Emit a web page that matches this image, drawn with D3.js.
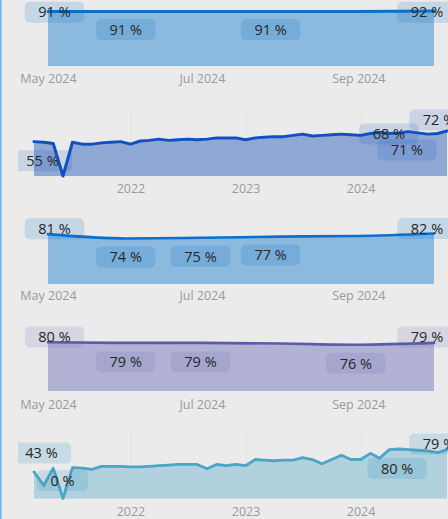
<!DOCTYPE html>
<html><head><meta charset="utf-8">
<script src="https://cdn.jsdelivr.net/npm/d3@7"></script>
<style>
html,body{margin:0;padding:0;background:#ebebeb;}
svg{display:block;}
</style></head>
<body>
<svg id="c" width="448" height="519"></svg>
<script>
// ---- data ----
const shortMonths = ["2024-05","2024-06","2024-07","2024-08","2024-09","2024-10"];
const shortTicks = ["2024-05","2024-07","2024-09"];
const longMonths = [
 "2021-03","2021-04","2021-05","2021-06","2021-07","2021-08","2021-09","2021-10","2021-11","2021-12",
 "2022-01","2022-02","2022-03","2022-04","2022-05","2022-06","2022-07","2022-08","2022-09","2022-10","2022-11","2022-12",
 "2023-01","2023-02","2023-03","2023-04","2023-05","2023-06","2023-07","2023-08","2023-09","2023-10","2023-11","2023-12",
 "2024-01","2024-02","2024-03","2024-04","2024-05","2024-06","2024-07","2024-08","2024-09","2024-10"];
const longTicks = ["2022-01","2023-01","2024-01"];

const valuesA = [91,91,91,91,91,92];
const valuesB = [55,54,52,0,54,51,51,53,54,55,51,56,57,59,57,58,59,58,59,61,61,61,58,61,62,63,63,65,67,64,65,66,67,66,65,68,70,68,69,71,69,67,68,72];
const valuesC = [81,74,75,77,78,82];
const valuesD = [80,79,79,78,76,79];
const valuesE = [43,21,49,0,50,49,47,52,52,52,51,51,52,53,54,55,55,55,48,55,53,55,53,63,62,61,62,62,66,63,56,63,70,63,63,73,65,79,80,79,78,77,74,79];

// ---- layout ----
const panels = [
 {values: valuesA, dates: shortMonths, ticks: shortTicks, fmt: "%b %Y", x0: 48, x1: 434, yTop: 11, yBot: 66, tickY: 79,
  line: "#0d6fcb", area: "#8cb9de", box: "rgba(13,111,203,0.17)", curve: d3.curveMonotoneX, lw: 3, grid: false,
  labels: [{i:0,dx:6.5,dy:-5},{i:1,dx:-0.5,dy:18},{i:3,dx:-9.5,dy:18},{i:5,dx:-7,dy:-5}]},
 {values: valuesB, dates: longMonths, ticks: longTicks, fmt: "%Y", x0: 34, x1: 447, yTop: 131, yBot: 176, tickY: 188.7,
  line: "#1150c0", area: "#8fa9d4", box: "rgba(17,80,192,0.15)", curve: d3.curveLinear, lw: 3, grid: true,
  labels: [{i:0,dx:8.5,dy:19},{i:37,dx:-0.5,dy:0.5},{i:39,dx:-1.7,dy:18.4},{i:43,dx:-8,dy:-11}]},
 {values: valuesC, dates: shortMonths, ticks: shortTicks, fmt: "%b %Y", x0: 48, x1: 434, yTop: 233.5, yBot: 284, tickY: 295.7,
  line: "#0d6fcb", area: "#8cb9de", box: "rgba(13,111,203,0.17)", curve: d3.curveMonotoneX, lw: 2.6, grid: false,
  labels: [{i:0,dx:6.5,dy:-5.3},{i:1,dx:-0.5,dy:18.7},{i:2,dx:-1.4,dy:18.5},{i:3,dx:-9.5,dy:18.4},{i:5,dx:-7,dy:-5}]},
 {values: valuesD, dates: shortMonths, ticks: shortTicks, fmt: "%b %Y", x0: 48, x1: 434, yTop: 342.3, yBot: 391, tickY: 404.3,
  line: "#5a5ca8", area: "#b2b3d4", box: "rgba(90,92,168,0.15)", curve: d3.curveMonotoneX, lw: 2.6, grid: false,
  labels: [{i:0,dx:6.5,dy:-5.3},{i:1,dx:-0.5,dy:19},{i:2,dx:-1.4,dy:19},{i:4,dx:-2.5,dy:18.6},{i:5,dx:-7,dy:-6}]},
 {values: valuesE, dates: longMonths, ticks: longTicks, fmt: "%Y", x0: 34, x1: 447, yTop: 449, yBot: 498.5, tickY: 511.7,
  line: "#4ba5c6", area: "#b0d1dd", box: "rgba(60,150,195,0.2)", curve: d3.curveLinear, lw: 2.8, grid: true,
  labels: [{i:0,dx:7.5,dy:-19},{i:3,dx:-0.5,dy:-18},{i:38,dx:-1.7,dy:19.5},{i:43,dx:-8,dy:-5.5}]}
];

const svg = d3.select("#c");
svg.append("rect").attr("width", 448).attr("height", 519).attr("fill", "#ebebeb");
svg.append("rect").attr("x", 0).attr("width", 1.6).attr("height", 519).attr("fill", "#72b6e4");
svg.append("defs").append("clipPath").attr("id", "vis")
  .append("rect").attr("x", 18).attr("y", 0).attr("width", 430).attr("height", 519);

const parse = d3.timeParse("%Y-%m");
const FONT = "'Open Sans', 'Noto Sans', sans-serif";

panels.forEach(p => {
  const dates = p.dates.map(parse);
  const tickDates = p.ticks.map(parse);
  const x = d3.scaleTime().domain(d3.extent(dates)).range([p.x0, p.x1]);
  const y = d3.scaleLinear().domain([0, d3.max(p.values)]).range([p.yBot, p.yTop]);
  const g = svg.append("g");

  if (p.grid) {
    g.selectAll("line.grid").data(tickDates).join("line")
      .attr("class", "grid")
      .attr("x1", d => Math.round(x(d)) + 0.5).attr("x2", d => Math.round(x(d)) + 0.5)
      .attr("y1", p.yTop - 20).attr("y2", p.yBot)
      .attr("stroke", "#e3e3e3").attr("stroke-width", 1);
  }

  const area = d3.area().x((d, i) => x(dates[i])).y0(p.yBot).y1(d => y(d)).curve(p.curve);
  g.append("path").datum(p.values).attr("d", area).attr("fill", p.area);

  const line = d3.line().x((d, i) => x(dates[i])).y(d => y(d)).curve(p.curve);
  g.append("path").datum(p.values).attr("d", line)
    .attr("fill", "none").attr("stroke", p.line).attr("stroke-width", p.lw)
    .attr("stroke-linejoin", "round").attr("stroke-linecap", "round");

  const axis = d3.axisBottom(x).tickValues(tickDates).tickFormat(d3.timeFormat(p.fmt)).tickSize(0);
  const ax = g.append("g").attr("transform", `translate(0,${p.tickY})`).call(axis);
  ax.select(".domain").remove();
  ax.selectAll("text").attr("y", 0).attr("dy", "0.35em")
    .attr("fill", "#9a9a9a").style("font-family", FONT).style("font-size", "12.5px");

  const lg = g.append("g").attr("clip-path", "url(#vis)");
  p.labels.forEach(L => {
    const v = p.values[L.i];
    const cx = x(dates[L.i]) + L.dx;
    const cy = Math.max(y(v) + L.dy, 12.2);
    const lab = lg.append("g");
    const rect = lab.append("rect");
    const t = lab.append("text").text(v + " %")
      .attr("x", cx).attr("y", cy).attr("dy", "0.36em")
      .attr("text-anchor", "middle")
      .attr("fill", "#262626").style("font-family", FONT).style("font-size", "14.5px");
    const w = t.node().getComputedTextLength() + 27;
    rect.attr("x", cx - w / 2).attr("y", cy - 10.5).attr("width", w).attr("height", 21)
      .attr("rx", 5).attr("fill", p.box);
  });
});
</script>
</body></html>
